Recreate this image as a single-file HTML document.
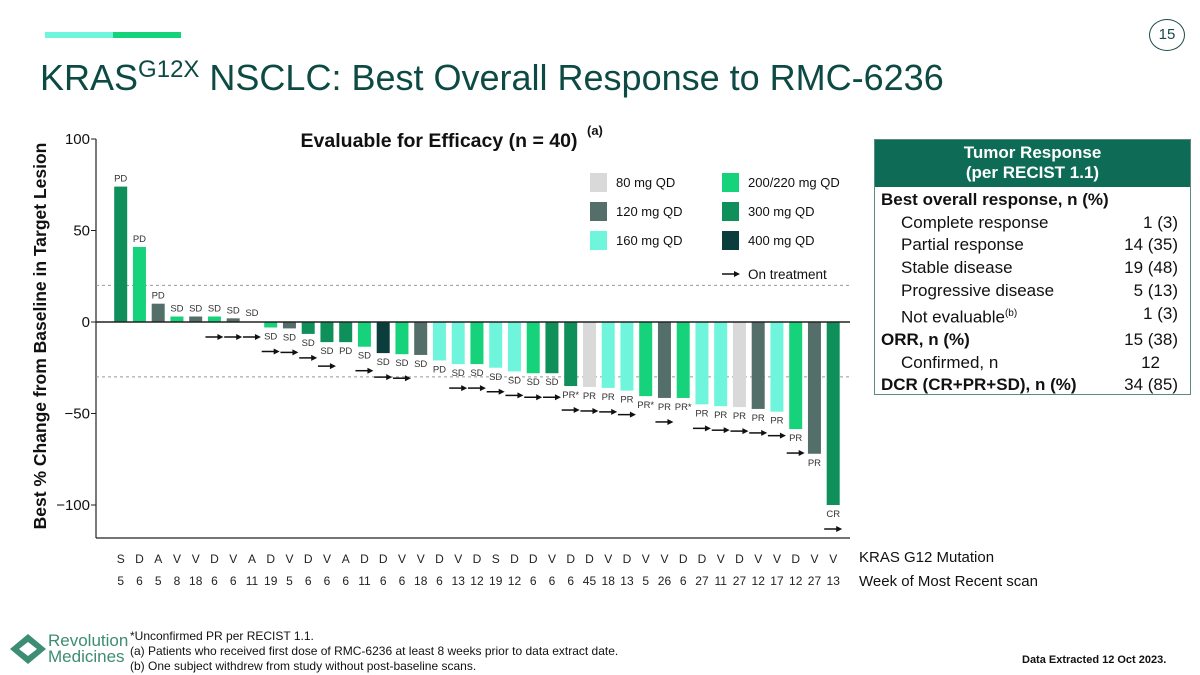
<!DOCTYPE html>
<html><head><meta charset="utf-8">
<style>
body{margin:0;background:#fff;font-family:"Liberation Sans",sans-serif;}
#page{position:relative;width:1200px;height:675px;overflow:hidden;background:#fff;}
.abs{position:absolute;}
</style></head>
<body>
<div id="page">
  <div class="abs" style="left:45px;top:32px;width:68px;height:6px;background:#6ff5dc"></div>
  <div class="abs" style="left:113px;top:32px;width:68px;height:6px;background:#16d27a"></div>
  <div class="abs" style="left:1149px;top:19px;width:34px;height:30px;border:1px solid #1b4a4a;border-radius:50%;text-align:center;line-height:30px;font-size:15px;color:#1b4a4a">15</div>
  <div class="abs" style="left:40px;top:56px;font-size:36px;color:#0d4a44;white-space:nowrap">KRAS<sup style="font-size:24px;vertical-align:13px">G12X</sup> NSCLC: Best Overall Response to RMC-6236</div>

  <svg class="abs" style="left:0;top:0" width="1200" height="675" id="chart"></svg>

  <div class="abs" style="left:874px;top:139px;width:317px;height:256px;border:1px solid #5a8a80;box-sizing:border-box">
    <div style="background:#0e6b55;color:#fff;font-weight:bold;text-align:center;font-size:17px;line-height:20px;padding:3px 0 4px">Tumor Response<br>(per RECIST 1.1)</div>
    <div style="font-size:17px;color:#111;padding:2px 0 0 6px;line-height:22.7px">
      <div style="font-weight:bold">Best overall response, n (%)</div>
      <div style="position:relative;padding-left:20px">Complete response<span style="position:absolute;right:12px">1 (3)</span></div>
      <div style="position:relative;padding-left:20px">Partial response<span style="position:absolute;right:12px">14 (35)</span></div>
      <div style="position:relative;padding-left:20px">Stable disease<span style="position:absolute;right:12px">19 (48)</span></div>
      <div style="position:relative;padding-left:20px">Progressive disease<span style="position:absolute;right:12px">5 (13)</span></div>
      <div style="position:relative;padding-left:20px">Not evaluable<sup style="font-size:10px">(b)</sup><span style="position:absolute;right:12px">1 (3)</span></div>
      <div style="position:relative;font-weight:bold">ORR, n (%)<span style="position:absolute;right:12px;font-weight:normal">15 (38)</span></div>
      <div style="position:relative;padding-left:20px">Confirmed, n<span style="position:absolute;right:30px">12</span></div>
      <div style="position:relative;font-weight:bold">DCR (CR+PR+SD), n (%)<span style="position:absolute;right:12px;font-weight:normal">34 (85)</span></div>
    </div>
  </div>

  <div class="abs" style="left:859px;top:549px;font-size:15px;color:#111">KRAS G12 Mutation</div>
  <div class="abs" style="left:859px;top:573px;font-size:15px;color:#111">Week of Most Recent scan</div>

  <svg class="abs" style="left:8px;top:632px" width="40" height="34">
    <polygon points="20,2 38,17 20,32 2,17" fill="#3d8c74"/>
    <polygon points="20,10 29,17 20,24 11,17" fill="#fff"/>
  </svg>
  <div class="abs" style="left:48px;top:633px;font-size:17px;line-height:16px;color:#3d8c74">Revolution<br>Medicines</div>
  <div class="abs" style="left:130px;top:629px;font-size:12px;line-height:15px;color:#111">*Unconfirmed PR per RECIST 1.1.<br>(a) Patients who received first dose of RMC-6236 at least 8 weeks prior to data extract date.<br>(b) One subject withdrew from study without post-baseline scans.</div>
  <div class="abs" style="left:1022px;top:654px;font-size:11px;font-weight:bold;color:#111">Data Extracted 12 Oct 2023.</div>
</div>
<script>
const values=[74,41,10,3,3,3,2,0,-3,-3.5,-6.5,-11,-11,-13.5,-17,-17.6,-18,-21,-23,-23,-25,-27,-28,-28,-35,-35.5,-36,-37.5,-40.5,-41.5,-41.5,-45,-46,-46.5,-47.5,-49,-58.5,-72,-100];
const doses=["300","200","120","200","120","200","120","120","200","120","300","300","300","200","400","200","120","160","160","200","160","160","200","300","300","80","160","160","200","120","200","160","160","80","120","160","200","120","300"];
const responses=["PD","PD","PD","SD","SD","SD","SD","SD","SD","SD","SD","SD","PD","SD","SD","SD","SD","PD","SD","SD","SD","SD","SD","SD","PR*","PR","PR","PR","PR*","PR","PR*","PR","PR","PR","PR","PR","PR","PR","CR"];
const onTreatment=[0,0,0,0,0,1,1,1,1,1,1,1,0,1,1,1,0,0,1,1,1,1,1,1,1,1,1,1,0,1,0,1,1,1,1,1,1,0,1];
const mutations=["S","D","A","V","V","D","V","A","D","V","D","V","A","D","D","V","V","D","V","D","S","D","D","V","D","D","V","D","V","V","D","D","V","D","V","V","D","V","V"];
const weeks=[5,6,5,8,18,6,6,11,19,5,6,6,6,11,6,6,18,6,13,12,19,12,6,6,6,45,18,13,5,26,6,27,11,27,12,17,12,27,13];
const yTicks=[100,50,0,-50,-100];
const refLines=[20,-30];
const doseColors={"80":"#d9d9d9","120":"#546e6a","160":"#6ff5dc","200":"#16d27a","300":"#0f8f5a","400":"#0b3d3d"};
const legendItems=[["80","80 mg QD"],["200","200/220 mg QD"],["120","120 mg QD"],["300","300 mg QD"],["160","160 mg QD"],["400","400 mg QD"]];

const svg=document.getElementById('chart');
const NS="http://www.w3.org/2000/svg";
const y=v=>322-v*1.83;
const x=i=>120.7+i*18.75;
function mk(tag,attrs,txt){const e=document.createElementNS(NS,tag);for(const k in attrs)e.setAttribute(k,attrs[k]);if(txt!==undefined)e.textContent=txt;svg.appendChild(e);return e;}
function arrow(cx,cy){
  const g=mk('g',{});
  
  
  const l=document.createElementNS(NS,'line');l.setAttribute('x1',cx-9);l.setAttribute('x2',cx+4);l.setAttribute('y1',cy);l.setAttribute('y2',cy);l.setAttribute('stroke','#111');l.setAttribute('stroke-width','1.5');g.appendChild(l);
  const p=document.createElementNS(NS,'polygon');p.setAttribute('points',`${cx+3},${cy-3} ${cx+9},${cy} ${cx+3},${cy+3}`);p.setAttribute('fill','#111');g.appendChild(p);
}
let e=mk('line',{x1:96,x2:96,y1:139,y2:538,stroke:'#222','stroke-width':1.2});

e=mk('line',{x1:96,x2:850,y1:538,y2:538,stroke:'#222','stroke-width':1.2});

refLines.forEach(v=>{e=mk('line',{x1:96,x2:850,y1:y(v),y2:y(v),stroke:'#999','stroke-width':1,'stroke-dasharray':'3,3'});
});
yTicks.forEach(v=>{
  e=mk('line',{x1:91,x2:96,y1:y(v),y2:y(v),stroke:'#222'});
  
  e=mk('text',{x:90,y:y(v)+5,'text-anchor':'end','font-size':15,fill:'#111'},v===0?'0':(v<0?'−'+(-v):String(v)));
  
});
e=mk('text',{x:0,y:0,transform:'translate(46,336) rotate(-90)','text-anchor':'middle','font-size':17.5,'font-weight':'bold',fill:'#111'},'Best % Change from Baseline in Target Lesion');

e=mk('text',{x:439,y:147,'text-anchor':'middle','font-size':19.5,'font-weight':'bold',fill:'#111'},'Evaluable for Efficacy (n = 40)');

e=mk('text',{x:587,y:135,'font-size':13,'font-weight':'bold',fill:'#111'},'(a)');

values.forEach((v,i)=>{
  const cx=x(i),top=Math.min(y(v),y(0)),h=Math.abs(y(v)-y(0));
  const r=mk('rect',{x:cx-6.5,y:top,width:13,height:h,fill:doseColors[doses[i]]});
  
  const ly=v>0?y(v)-5:(v===0?y(0)-6:y(v)+12);
  const t=mk('text',{x:cx,y:ly,'text-anchor':'middle','font-size':9.5,fill:'#333'},responses[i]);
  
  if(onTreatment[i]){arrow(cx,v>=0?y(0)+15:y(v)+24);}
  const m=mk('text',{x:cx,y:563,'text-anchor':'middle','font-size':12,fill:'#222'},mutations[i]);
  
  const w=mk('text',{x:cx,y:585,'text-anchor':'middle','font-size':12,fill:'#222'},String(weeks[i]));
  
});
e=mk('line',{x1:96,x2:850,y1:322,y2:322,stroke:'#222','stroke-width':1.5});

legendItems.forEach((it,k)=>{
  const lx=590+(k%2)*132,ly=173+Math.floor(k/2)*29;
  const r=mk('rect',{x:lx,y:ly,width:17,height:19,fill:doseColors[it[0]]});
  
  const t=mk('text',{x:lx+26,y:ly+14,'font-size':13,fill:'#111'},it[1]);
  
});
arrow(731,274);
e=mk('text',{x:748,y:279,'font-size':13.5,fill:'#111'},'On treatment');

</script>
</body></html>
